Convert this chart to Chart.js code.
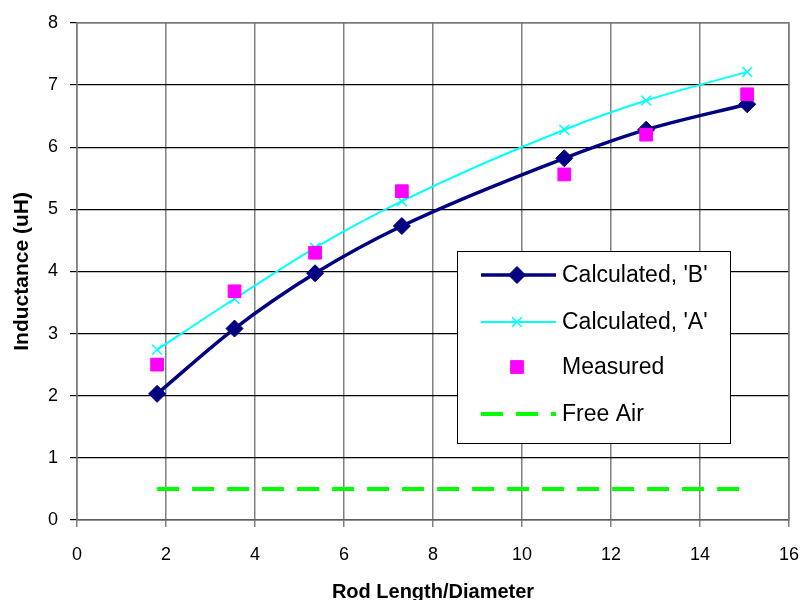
<!DOCTYPE html>
<html>
<head>
<meta charset="utf-8">
<script src="https://cdn.jsdelivr.net/npm/chart.js@4"></script>
<style>
  html, body { margin: 0; padding: 0; background: #fff; }
  #wrap { width: 800px; height: 600px; }
</style>
</head>
<body>
<div id="wrap"><canvas id="chart" width="800" height="600"></canvas></div>
<script>
const rodRatio = [1.8, 3.54, 5.35, 7.3, 10.95, 12.79, 15.06];
const calcB = [2.03, 3.08, 3.97, 4.73, 5.82, 6.28, 6.69];
const calcA = [2.74, 3.56, 4.38, 5.13, 6.28, 6.75, 7.21];
const measured = [2.5, 3.68, 4.3, 5.29, 5.56, 6.2, 6.85];
const freeAirX = [1.8, 15.06];
const freeAirY = [0.5, 0.5];
const seriesNames = ["Calculated, 'B'", "Calculated, 'A'", "Measured", "Free Air"];

const FONT = "Arial, 'Liberation Sans', sans-serif";

function pts(xs, ys) {
  return xs.map((x, i) => ({ x: x, y: ys[i] }));
}

// legend box drawn inside the plot, Excel style
const boxLegend = {
  id: "boxLegend",
  beforeDatasetsDraw(chart) {
    const a = chart.chartArea;
    const ctx = chart.ctx;
    ctx.save();
    ctx.strokeStyle = "#808080";
    ctx.lineWidth = 1.5;
    ctx.strokeRect(a.left, a.top, a.right - a.left, a.bottom - a.top);
    ctx.restore();
  },
  afterDraw(chart) {
    const ctx = chart.ctx;
    const x0 = 457, y0 = 251, w = 273, h = 192;
    ctx.save();
    ctx.fillStyle = "#fff";
    ctx.fillRect(x0, y0, w, h);
    ctx.strokeStyle = "#000";
    ctx.lineWidth = 1;
    ctx.strokeRect(x0 + 0.5, y0 + 0.5, w, h);

    const rows = [275, 322, 367, 414];
    const sx0 = 481, sx1 = 556, mid = 517;
    chart.data.datasets.forEach((ds, i) => {
      const y = rows[i];
      if (ds.showLine !== false) {
        ctx.beginPath();
        ctx.strokeStyle = ds.borderColor;
        ctx.lineWidth = ds.borderWidth;
        ctx.setLineDash(ds.borderDash || []);
        ctx.moveTo(sx0, y);
        ctx.lineTo(sx1, y);
        ctx.stroke();
        ctx.setLineDash([]);
      }
      if (ds.pointRadius > 0) {
        ctx.fillStyle = ds.pointBackgroundColor;
        ctx.strokeStyle = ds.pointBorderColor;
        ctx.lineWidth = ds.pointBorderWidth || 1;
        Chart.helpers.drawPoint(ctx, {
          pointStyle: ds.pointStyle,
          radius: ds.pointRadius,
          borderWidth: ds.pointBorderWidth || 1,
        }, mid, y);
      }
      ctx.fillStyle = "#000";
      ctx.font = "23px " + FONT;
      ctx.textBaseline = "middle";
      ctx.textAlign = "left";
      ctx.fillText(seriesNames[i], 562, y + 1);
    });
    ctx.restore();
  }
};

new Chart(document.getElementById("chart"), {
  type: "scatter",
  data: {
    datasets: [
      {
        label: seriesNames[0],
        data: pts(rodRatio, calcB),
        showLine: true,
        borderColor: "#000080",
        borderWidth: 3.5,
        cubicInterpolationMode: "monotone",
        pointStyle: "rectRot",
        pointRadius: 8.5,
        pointBackgroundColor: "#000080",
        pointBorderColor: "#000080",
        pointBorderWidth: 1,
        order: 2,
      },
      {
        label: seriesNames[1],
        data: pts(rodRatio, calcA),
        showLine: true,
        borderColor: "#00ffff",
        borderWidth: 2,
        cubicInterpolationMode: "monotone",
        pointStyle: "crossRot",
        pointRadius: 7,
        pointBackgroundColor: "#00ffff",
        pointBorderColor: "#00ffff",
        pointBorderWidth: 1.5,
        order: 3,
      },
      {
        label: seriesNames[2],
        data: pts(rodRatio, measured),
        showLine: false,
        pointStyle: "rect",
        pointRadius: 9,
        pointBackgroundColor: "#ff00ff",
        pointBorderColor: "#ff00ff",
        pointBorderWidth: 1,
        order: 1,
      },
      {
        label: seriesNames[3],
        data: pts(freeAirX, freeAirY),
        showLine: true,
        borderColor: "#00ff00",
        borderWidth: 4,
        borderDash: [22, 13],
        pointRadius: 0,
        order: 4,
      },
    ],
  },
  options: {
    responsive: false,
    animation: false,
    layout: { padding: { top: 19, right: 0, left: 0, bottom: 0 } },
    plugins: {
      legend: { display: false },
      tooltip: { enabled: false },
    },
    scales: {
      x: {
        type: "linear",
        min: 0,
        max: 16,
        ticks: { stepSize: 2, color: "#000", font: { family: FONT, size: 18 }, padding: 17 },
        grid: { color: "#808080", lineWidth: 1.5, tickLength: 7 },
        border: { display: false },
        title: {
          display: true,
          text: "Rod Length/Diameter",
          color: "#000",
          font: { family: FONT, size: 20, weight: "bold" },
          padding: { top: 0, bottom: -4 },
        },
        afterFit(s) {
          s.height = 80;
          s.paddingLeft = 0;
          s.paddingRight = 11;
        },
      },
      y: {
        type: "linear",
        min: 0,
        max: 8,
        ticks: { stepSize: 1, color: "#000", font: { family: FONT, size: 18 }, padding: 12 },
        grid: { color: "#000", lineWidth: 1.2, tickLength: 7 },
        border: { display: false },
        title: {
          display: true,
          text: "Inductance (uH)",
          color: "#000",
          font: { family: FONT, size: 21, weight: "bold" },
          padding: { top: 10, bottom: 0 },
        },
        afterFit(s) { s.width = 77; },
      },
    },
  },
  plugins: [boxLegend],
});
</script>
</body>
</html>
